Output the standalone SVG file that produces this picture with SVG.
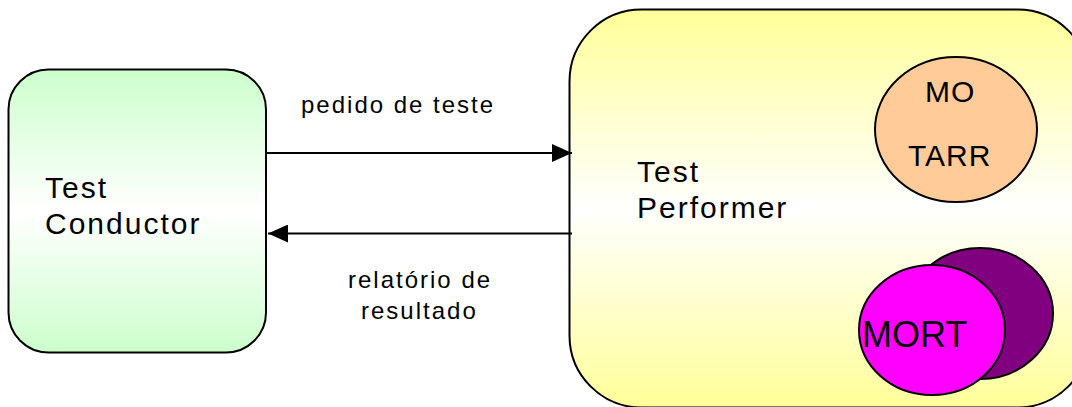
<svg xmlns="http://www.w3.org/2000/svg" width="1072" height="407" viewBox="0 0 1072 407">
<style>
.box{stroke:#000;stroke-width:2}
.ell{stroke:#000;stroke-width:2}
.t{font-family:"Liberation Sans",Arial,sans-serif;fill:#000}
.big{font-size:30px;letter-spacing:2px}
.lbl{font-size:24px;letter-spacing:2px}
.conn{stroke:#000;stroke-width:2;fill:none}
</style>
<defs>
<linearGradient id="gGreen" x1="0" y1="0" x2="0" y2="1">
<stop offset="0" stop-color="#ccffcc"/>
<stop offset="0.5" stop-color="#ffffff"/>
<stop offset="1" stop-color="#ccffcc"/>
</linearGradient>
<linearGradient id="gYellow" x1="0" y1="0" x2="0" y2="1">
<stop offset="0" stop-color="#ffff99"/>
<stop offset="0.5" stop-color="#ffffff"/>
<stop offset="1" stop-color="#ffff99"/>
</linearGradient>
<marker id="arr" markerWidth="20" markerHeight="18" refX="20" refY="9" orient="auto" markerUnits="userSpaceOnUse">
<path d="M0,0 L20,9 L0,18 Z" fill="#000"/>
</marker>
</defs>
<g id="test-conductor">
<rect class="box" x="8.5" y="69.5" width="257.5" height="283" rx="40" ry="40" fill="url(#gGreen)"/>
<text class="t big" x="45" y="198">Test</text>
<text class="t big" x="45" y="234">Conductor</text>
</g>
<g id="test-performer">
<rect class="box" x="569.5" y="9.5" width="520" height="398" rx="72" ry="72" fill="url(#gYellow)"/>
<text class="t big" x="637" y="182">Test</text>
<text class="t big" x="637" y="218">Performer</text>
</g>
<g id="mo-tarr">
<ellipse class="ell" cx="956" cy="129.5" rx="81" ry="72.5" fill="#ffcc99"/>
<text class="t big" x="925" y="102" style="letter-spacing:1px">MO</text>
<text class="t big" x="908" y="166" style="letter-spacing:1px">TARR</text>
</g>
<g id="mort-back">
<ellipse class="ell" cx="980" cy="313.5" rx="73" ry="65.5" fill="#800080"/>
</g>
<g id="mort">
<ellipse class="ell" cx="932" cy="330" rx="73" ry="65" fill="#ff00ff"/>
<text class="t" x="862" y="347" font-size="36">MORT</text>
</g>
<g id="connectors">
<line class="conn" x1="266" y1="153" x2="572" y2="153" marker-end="url(#arr)"/>
<line class="conn" x1="572" y1="233.5" x2="268" y2="233.5" marker-end="url(#arr)"/>
<text class="t lbl" x="301" y="113">pedido de teste</text>
<text class="t lbl" x="348" y="288">relatório de</text>
<text class="t lbl" x="361" y="319">resultado</text>
</g>
</svg>
